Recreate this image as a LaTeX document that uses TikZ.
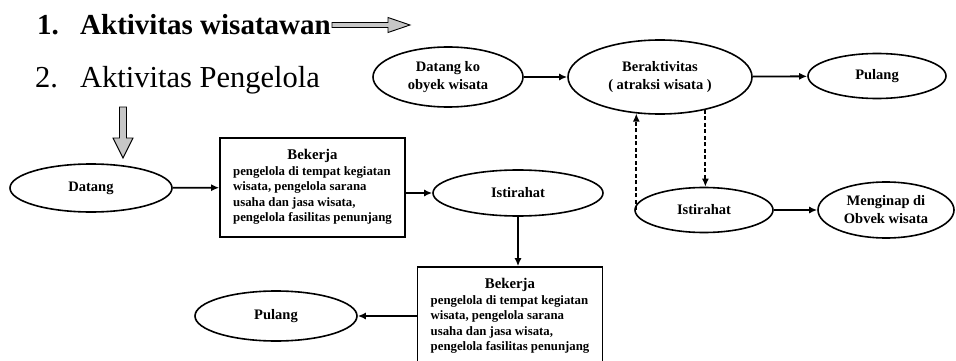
\documentclass[tikz,border=0pt]{standalone}
\usepackage{fontspec}
\setmainfont{Liberation Serif}
\usetikzlibrary{arrows.meta,shapes.geometric,calc}
\newcommand{\bktxt}{%
  \renewcommand{\arraystretch}{1}%
  \begin{tabular}{@{}l@{}}
  \multicolumn{1}{@{}c@{}}{\fontsize{14.8}{16}\selectfont Bekerja}\\
  pengelola di tempat kegiatan\\
  wisata, pengelola sarana\\
  usaha dan jasa wisata,\\
  pengelola fasilitas penunjang
  \end{tabular}}
\begin{document}
\begin{tikzpicture}[x=1pt,y=-1pt,
  ell/.style={draw,line width=1.6pt,ellipse,inner sep=0pt,
    font=\fontsize{14.5}{18}\selectfont\bfseries,align=center},
  boxnode/.style={draw,line width=1.6pt,rectangle,inner sep=0pt,
    minimum width=185pt,minimum height=99pt,
    font=\fontsize{12.8}{15.5}\selectfont\bfseries},
  conn/.style={line width=1.8pt,-{Latex[length=8pt,width=7pt]}},
  dconn/.style={conn,dash pattern=on 4pt off 2.5pt},
  ttl/.style={anchor=base west,inner sep=0pt},
  blockarrow/.style={draw=black,line width=0.9pt,fill=gray!45}]
\useasboundingbox (0,0) rectangle (956,361);
\fill[white] (0,0) rectangle (956,361);
\begin{scope}
\clip (0,0) rectangle (956,361);
% titles
\node[ttl,font=\fontsize{29}{34}\selectfont\bfseries] (n1) at (37,35) {1.};
\node[ttl,font=\fontsize{29}{34}\selectfont\bfseries] (t1) at (80,35) {Aktivitas wisatawan};
\node[ttl,font=\fontsize{30.5}{36}\selectfont] (n2) at (35,88) {2.};
\node[ttl,font=\fontsize{30.5}{36}\selectfont] (t2) at (80,88) {Aktivitas Pengelola};
% block arrows
\draw[blockarrow] (332,22.5) -- (388,22.5) -- (388,17.5) -- (410,25) -- (388,32.5)
  -- (388,27.5) -- (332,27.5) -- cycle;
\draw[blockarrow] (119.5,107) -- (126.5,107) -- (126.5,138) -- (133,138) -- (123,158)
  -- (113,138) -- (119.5,138) -- cycle;
% tourist flow
\node[ell,minimum width=150pt,minimum height=60pt] (datk) at (448,77) {Datang ko\\obyek wisata};
\node[ell,minimum width=184pt,minimum height=74pt] (ber) at (660,77) {Beraktivitas\\( atraksi wisata )};
\node[ell,minimum width=138pt,minimum height=45pt] (pul1) at (877,76) {Pulang};
\node[ell,minimum width=138pt,minimum height=45pt] (ist2) at (704,210) {Istirahat};
\node[ell,minimum width=136pt,minimum height=56pt] (meng) at (886,210) {Menginap di\\Obvek wisata};
\draw[conn] (datk) -- (ber);
\draw[conn] (ber) -- (pul1);
\draw[conn] (ist2) -- (meng);
\draw[dconn] (ber.237 |- ist2.west) -- (ber.237);
\draw[dconn] (ber.324) -- (ber.324 |- ist2.north);
% manager flow
\node[ell,minimum width=162pt,minimum height=48pt] (dat) at (91,188) {Datang};
\node[boxnode] (box1) at (312.5,187.5) {\bktxt};
\node[ell,minimum width=170pt,minimum height=46pt] (ist1) at (518,193) {Istirahat};
\node[boxnode] (box2) at (510,316.5) {\bktxt};
\node[ell,minimum width=162pt,minimum height=50pt] (pul2) at (276,316) {Pulang};
\draw[conn] (dat) -- (box1);
\draw[conn] (box1.east |- ist1.west) -- (ist1.west);
\draw[conn] (ist1.south) -- (ist1.south |- box2.north);
\draw[conn] (box2.west |- pul2.east) -- (pul2.east);
\end{scope}
\end{tikzpicture}
\end{document}
